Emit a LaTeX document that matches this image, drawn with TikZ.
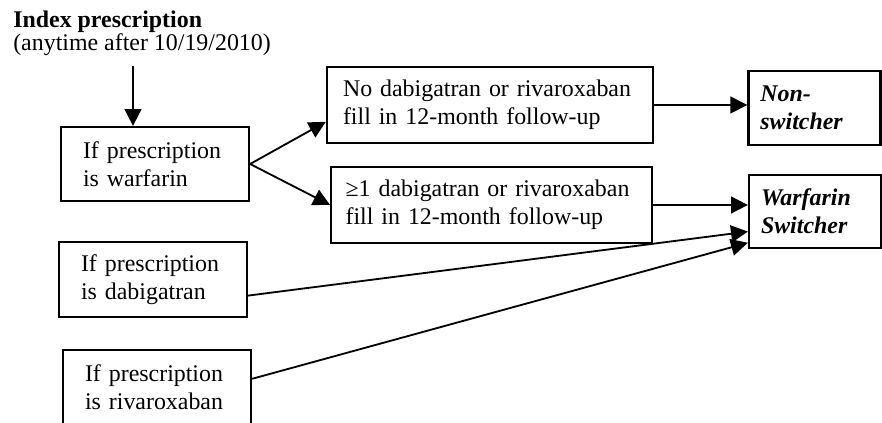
\documentclass[tikz,border=0pt]{standalone}
\usepackage{fontspec}
\setmainfont{Liberation Serif}
\usetikzlibrary{arrows.meta}

\begin{document}
\begin{tikzpicture}[
    box/.style={draw, line width=1.6pt, align=left, inner ysep=0pt,
      font=\fontsize{17}{20}\selectfont},
    arr/.style={line width=1.3pt, -{Triangle[length=12pt,width=12pt]}}
  ]
    \useasboundingbox (0,0) rectangle (22.05,-10.575);
    \node[anchor=north west, inner sep=0pt, align=left,
      font=\fontsize{17}{15}\selectfont] (idx) at (0.325,-0.27)
      {\textbf{Index prescription}\\(anytime after 10/19/2010)};
    \node[box, text width=3.6cm, inner xsep=0.55cm, minimum height=1.85cm] (warf) at (3.875,-4.1)
      {If prescription\\is warfarin};
    \node[box, text width=7.35cm, inner xsep=0.4cm, minimum height=1.9cm] (nof) at (12.25,-2.625)
      {No dabigatran or rivaroxaban\\fill in 12-month follow-up};
    \node[box, text width=7.3cm, inner xsep=0.36cm, minimum height=1.9cm] (onef) at (12.29,-5.125)
      {≥1 dabigatran or rivaroxaban\\fill in 12-month follow-up};
    \node[box, text width=2.7cm, inner xsep=0.3cm, minimum height=1.85cm] (non) at (20.36,-2.7)
      {\textbf{\textit{Non-}}\\\textbf{\textit{switcher}}};
    \node[box, text width=2.7cm, inner xsep=0.3cm, minimum height=1.825cm] (sw) at (20.375,-5.29)
      {\textbf{\textit{Warfarin}}\\\textbf{\textit{Switcher}}};
    \node[box, text width=3.6cm, inner xsep=0.55cm, minimum height=1.875cm] (dab) at (3.825,-6.99)
      {If prescription\\is dabigatran};
    \node[box, text width=3.6cm, inner xsep=0.55cm, minimum height=1.875cm] (riv) at (3.925,-9.69)
      {If prescription\\is rivaroxaban};

    \coordinate (start) at (3.325,-1.65);
    \draw[arr] (start) -- (start |- warf.north);
    \draw[arr] (warf.east) -- ([yshift=-0.42cm]nof.west);
    \draw[arr] (warf.east) -- (onef.west);
    \draw[arr] (nof.east) -- (nof.east -| non.west);
    \draw[arr] (onef.east) -- (onef.east -| sw.west);
    \draw[arr] ([yshift=-0.4cm]dab.east) -- ([yshift=-0.5cm]sw.west);
    \draw[arr] ([yshift=0.22cm]riv.east) -- ([yshift=-0.78cm]sw.west);
  \end{tikzpicture}
\end{document}
